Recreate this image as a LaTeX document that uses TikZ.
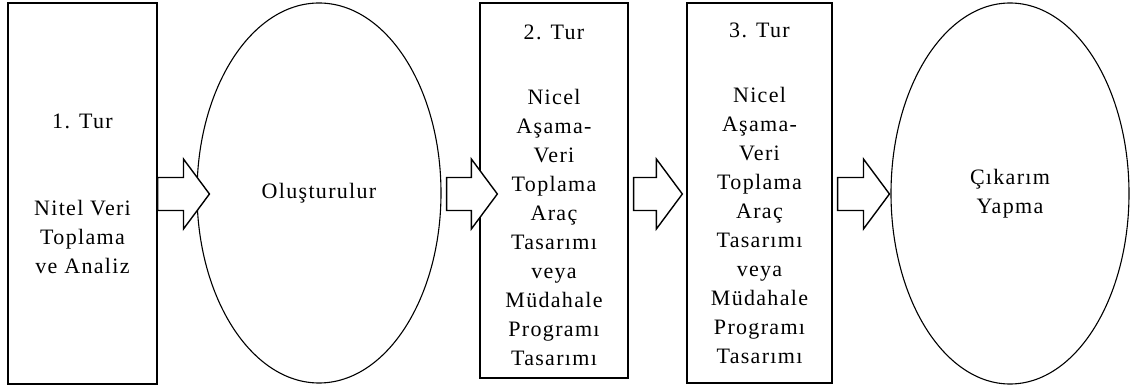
\documentclass[tikz,border=0pt]{standalone}
\usepackage{fontspec}
\setmainfont{Liberation Serif}[LetterSpace=6]
\usetikzlibrary{shapes.geometric,calc}
\tikzset{
  lbl/.style={font=\fontsize{22}{29}\selectfont, align=center, inner sep=0pt},
  boxnode/.style={draw, line width=1.3pt, rectangle, lbl},
  ovalnode/.style={draw, line width=1.1pt, ellipse, inner sep=0pt, lbl},
  blockarrow/.style={draw, line width=1.4pt, fill=white, line join=miter,
    to path={let \p1=(\tikztostart), \p2=(\tikztotarget) in
      (\x1,{\y1+16.5pt}) -- ({\x2-26pt},{\y1+16.5pt}) -- ({\x2-26pt},{\y1+35pt})
      -- (\x2,\y1) -- ({\x2-26pt},{\y1-35pt}) -- ({\x2-26pt},{\y1-16.5pt})
      -- (\x1,{\y1-16.5pt}) -- cycle}}
}
\begin{document}
\begin{tikzpicture}[x=1pt,y=1pt]
\useasboundingbox (0,0) rectangle (1132,391);
\node[boxnode, minimum width=149pt, minimum height=381pt] (b1) at (82.5,197.5)
  {1. Tur\\[58pt]Nitel Veri\\Toplama\\ve Analiz};
\node[ovalnode, minimum width=244pt, minimum height=380pt] (e1) at (319,198) {Oluşturulur};
\node[boxnode, minimum width=148pt, minimum height=375pt] (b2) at (554,200.5)
  {2. Tur\\[36pt]Nicel\\Aşama-\\Veri\\Toplama\\Araç\\Tasarımı\\veya\\Müdahale\\Programı\\Tasarımı\\[-39pt]\mbox{}};
\node[boxnode, minimum width=145pt, minimum height=380pt] (b3) at (759.5,198)
  {3. Tur\\[36pt]Nicel\\Aşama-\\Veri\\Toplama\\Araç\\Tasarımı\\veya\\Müdahale\\Programı\\Tasarımı};
\node[ovalnode, minimum width=238pt, minimum height=381pt] (e2) at (1010,197.5) {Çıkarım\\Yapma};
\draw[blockarrow] ([yshift=-0.5pt]b1.east) to ([xshift=13pt]e1.west);
\draw[blockarrow] ([xshift=5pt,yshift=-1pt]e1.east) to ([xshift=18pt]b2.west);
\draw[blockarrow] ([xshift=5pt,yshift=-3.5pt]b2.east) to ([xshift=-4pt]b3.west);
\draw[blockarrow] ([xshift=5pt,yshift=-1pt]b3.east) to ([xshift=-1pt]e2.west);
\end{tikzpicture}
\end{document}
